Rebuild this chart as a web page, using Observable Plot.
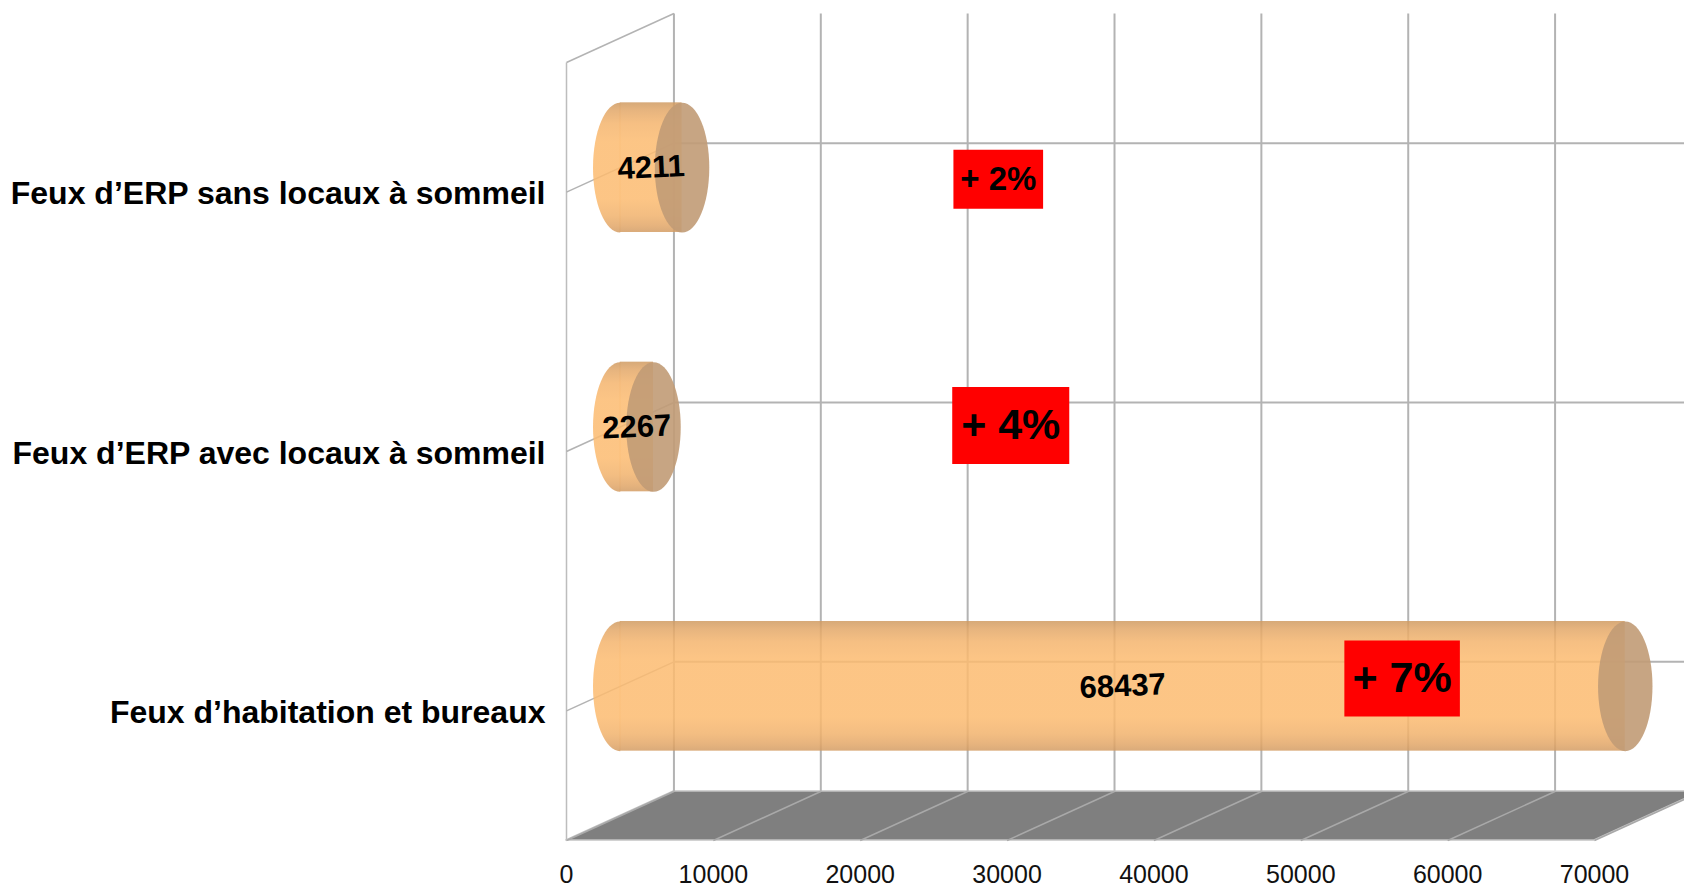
<!DOCTYPE html>
<html>
<head>
<meta charset="utf-8">
<script src="https://cdn.jsdelivr.net/npm/d3@7"></script>
<script src="https://cdn.jsdelivr.net/npm/@observablehq/plot@0.6"></script>
<style>
  html, body { margin: 0; padding: 0; background: #fff; }
  #chart { width: 1684px; height: 887px; overflow: hidden; }
</style>
</head>
<body>
<svg width="0" height="0" style="position:absolute">
  <defs>
    <linearGradient id="cylBody" x1="0" y1="0" x2="0" y2="1">
      <stop offset="0" stop-color="#cf9a61"/>
      <stop offset="0.06" stop-color="#e2a768"/>
      <stop offset="0.16" stop-color="#f4b46d"/>
      <stop offset="0.30" stop-color="#fcbb70"/>
      <stop offset="0.74" stop-color="#fcbb70"/>
      <stop offset="0.87" stop-color="#f1b26c"/>
      <stop offset="0.95" stop-color="#e2a667"/>
      <stop offset="1" stop-color="#d39c63"/>
    </linearGradient>
  </defs>
</svg>
<div id="chart"></div>
<script>
// ---- data ----
const categories = [
  "Feux d’ERP sans locaux à sommeil",
  "Feux d’ERP avec locaux à sommeil",
  "Feux d’habitation et bureaux"
];
const values = [4211, 2267, 68437];
const changes = ["+ 2%", "+ 4%", "+ 7%"];
const xTicks = [0, 10000, 20000, 30000, 40000, 50000, 60000, 70000];
// where each change label sits (value axis, category axis)
const changeAtValue = [29400, 30250, 56900];
const changeAtRow = [2.55, 1.60, 0.625];

// ---- styling / 3D projection constants ----
const xMax = 70000;
const DX = 7316;     // oblique depth expressed in value units
const DY = 0.189;    // oblique depth expressed in category-band units
const MID = 0.5;     // bars sit half-way in depth
const n = categories.length;
const rows = categories.map((name, i) => ({name, value: values[i], change: changes[i], pos: n - i - 0.5}));

const K = 0.5523;
const ellipse = {draw(ctx, size) {
  const ry = Math.sqrt(size / Math.PI), rx = ry * 0.42;
  ctx.moveTo(0, -ry);
  ctx.bezierCurveTo(K * rx, -ry, rx, -K * ry, rx, 0);
  ctx.bezierCurveTo(rx, K * ry, K * rx, ry, 0, ry);
  ctx.bezierCurveTo(-K * rx, ry, -rx, K * ry, -rx, 0);
  ctx.bezierCurveTo(-rx, -K * ry, -K * rx, -ry, 0, -ry);
  ctx.closePath();
}};
const leftHalf = {draw(ctx, size) {
  const ry = Math.sqrt(size / Math.PI), rx = ry * 0.42;
  ctx.moveTo(0, -ry);
  ctx.bezierCurveTo(-K * rx, -ry, -rx, -K * ry, -rx, 0);
  ctx.bezierCurveTo(-rx, K * ry, -K * rx, ry, 0, ry);
  ctx.closePath();
}};
const box = {draw(ctx, size) {
  const h = Math.sqrt(size / Math.PI);
  ctx.rect(-1.52 * h, -h, 3.04 * h, 2 * h);
}};
const boxR = [29.5, 38.5, 38];
const boxFont = [33, 43, 43];

const grid = "#b3b3b3";

const marks = [
  // floor
  Plot.areaX([{y: 0, x1: 0, x2: xMax}, {y: DY, x1: DX, x2: xMax + DX}],
    {y: "y", x1: "x1", x2: "x2", fill: "#7f7f7f", stroke: "#c4c4c4", strokeWidth: 1.5}),
  Plot.link(xTicks, {x1: d => d, y1: () => 0, x2: d => d + DX, y2: () => DY, stroke: "#a9a9a9", strokeWidth: 1.5}),
  // back wall verticals
  Plot.link(xTicks, {x1: d => d + DX, y1: () => DY, x2: d => d + DX, y2: () => n + DY, stroke: grid, strokeWidth: 2}),
  // back wall horizontals at category centers
  Plot.link(rows, {x1: () => DX, y1: d => d.pos + DY, x2: () => xMax + DX, y2: d => d.pos + DY, stroke: grid, strokeWidth: 2}),
  // left wall
  Plot.link([0], {x1: () => 0, y1: () => 0, x2: () => 0, y2: () => n, stroke: "#bdbdbd", strokeWidth: 1.5}),
  Plot.link([0], {x1: () => 0, y1: () => n, x2: () => DX, y2: () => n + DY, stroke: grid, strokeWidth: 1.5}),
  Plot.link(rows, {x1: () => 0, y1: d => d.pos, x2: () => DX, y2: d => d.pos + DY, stroke: grid, strokeWidth: 1.5}),
  // cylinders
  Plot.dot(rows, {x: () => MID * DX, y: d => d.pos + MID * DY, r: 64.8, symbol: leftHalf, fill: "url(#cylBody)", fillOpacity: 0.85, stroke: "none"}),
  Plot.rect(rows, {x1: () => MID * DX, x2: d => d.value + MID * DX, y1: d => d.pos - 0.25 + MID * DY, y2: d => d.pos + 0.25 + MID * DY, fill: "url(#cylBody)", fillOpacity: 0.85}),
  Plot.dot(rows, {x: d => d.value + MID * DX, y: d => d.pos + MID * DY, r: 64.8, symbol: ellipse, fill: "#c19b75", fillOpacity: 0.9, stroke: "none"}),
  // value labels
  Plot.text(rows, {x: d => d.value / 2 + MID * DX, y: d => d.pos + MID * DY, text: d => String(d.value), fontSize: 31, fontWeight: "bold", rotate: -2.5, fill: "#000"}),
  // category labels
  Plot.text(rows, {x: () => 0, y: d => d.pos, text: "name", textAnchor: "end", dx: -21, dy: 2, fontSize: 32, fontWeight: "bold", fill: "#000"}),
  // value axis tick labels
  Plot.text(xTicks, {x: d => d, y: () => 0, text: d => String(d), dy: 34, fontSize: 25, fill: "#111"})
];
// change annotations
changes.forEach((c, i) => {
  marks.push(Plot.dot([c], {x: () => changeAtValue[i], y: () => changeAtRow[i], r: boxR[i], symbol: box, fill: "#ff0000", stroke: "none"}));
  marks.push(Plot.text([c], {x: () => changeAtValue[i], y: () => changeAtRow[i], text: d => d, fontSize: boxFont[i], fontWeight: "bold", fill: "#000"}));
});

const chart = Plot.plot({
  width: 1684, height: 887,
  marginLeft: 566, marginRight: 90, marginTop: 62, marginBottom: 47,
  x: {domain: [0, xMax], axis: null},
  y: {domain: [0, n], axis: null},
  r: {type: "identity"},
  style: {background: "#fff", fontFamily: "'Liberation Sans', Arial, sans-serif", overflow: "hidden"},
  marks
});
document.getElementById("chart").appendChild(chart);
</script>
</body>
</html>
